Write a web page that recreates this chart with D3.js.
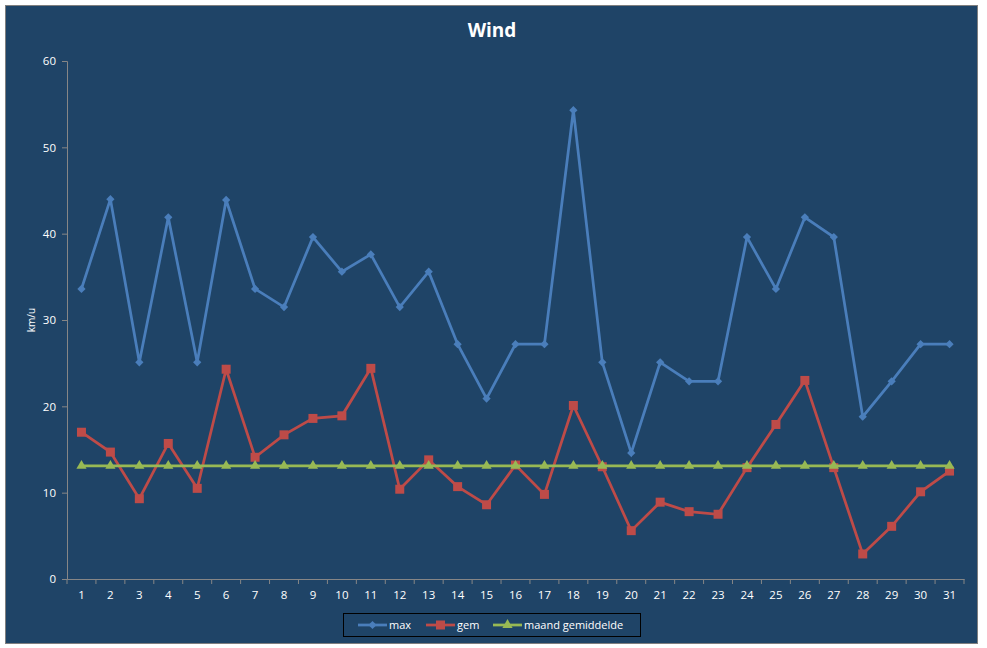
<!DOCTYPE html>
<html>
<head>
<meta charset="utf-8">
<script src="https://cdn.jsdelivr.net/npm/d3@7"></script>
<style>
  body { margin: 0; background: #ffffff; }
  text { font-family: "Open Sans", "Noto Sans", sans-serif; }
</style>
</head>
<body>
<svg id="chart"></svg>
<script>
// days of the month
var days = ["1","2","3","4","5","6","7","8","9","10","11","12","13","14","15","16",
            "17","18","19","20","21","22","23","24","25","26","27","28","29","30","31"];

// max wind per day (km/u)
var maxWind = [33.6, 44.0, 25.1, 41.9, 25.1, 43.9, 33.6, 31.5, 39.6, 35.6, 37.6, 31.5, 35.6, 27.2, 20.9, 27.2,
               27.2, 54.3, 25.1, 14.6, 25.1, 22.9, 22.9, 39.6, 33.6, 41.9, 39.6, 18.8, 22.9, 27.2, 27.2];

// average wind per day (km/u)
var gemWind = [17.0, 14.7, 9.3, 15.7, 10.5, 24.3, 14.1, 16.7, 18.6, 18.9, 24.4, 10.4, 13.8, 10.7, 8.6, 13.2,
               9.8, 20.1, 13.0, 5.6, 8.9, 7.8, 7.5, 12.9, 17.9, 23.0, 12.9, 2.9, 6.1, 10.1, 12.5];

// monthly average
var maandGem = [13.1, 13.1, 13.1, 13.1, 13.1, 13.1, 13.1, 13.1, 13.1, 13.1, 13.1, 13.1, 13.1, 13.1, 13.1, 13.1,
                13.1, 13.1, 13.1, 13.1, 13.1, 13.1, 13.1, 13.1, 13.1, 13.1, 13.1, 13.1, 13.1, 13.1, 13.1];

var yTicks = [0, 10, 20, 30, 40, 50, 60];

var width = 987;
var height = 648;

var svg = d3.select("#chart")
    .attr("width", width)
    .attr("height", height);

// chart background
svg.append("rect")
    .attr("x", 5.5).attr("y", 5.5)
    .attr("width", 972).attr("height", 638)
    .attr("fill", "#1f4467")
    .attr("stroke", "#7f7f7f")
    .attr("stroke-width", 1);

// title
svg.append("text")
    .attr("x", 492).attr("y", 37)
    .attr("text-anchor", "middle")
    .attr("fill", "#ffffff")
    .attr("font-size", 19)
    .attr("font-weight", "bold")
    .text("Wind");

var plotLeft = 67, plotRight = 964, plotTop = 61, plotBottom = 579;

var x = d3.scaleBand()
    .domain(days)
    .range([plotLeft, plotRight]);

var y = d3.scaleLinear()
    .domain([0, 60])
    .range([plotBottom, plotTop]);

// y axis
var yAxis = svg.append("g")
    .attr("transform", "translate(" + plotLeft + ",0)")
    .call(d3.axisLeft(y).tickValues(yTicks).tickSize(5).tickPadding(6));

// x axis, ticks between categories
var xAxis = svg.append("g")
    .attr("transform", "translate(0," + plotBottom + ")")
    .call(d3.axisBottom(x).tickSize(0).tickPadding(12));

xAxis.selectAll(".tickmark")
    .data(d3.range(days.length + 1))
    .enter().append("line")
    .attr("class", "tickmark")
    .attr("x1", function(i) { return plotLeft + i * x.step(); })
    .attr("x2", function(i) { return plotLeft + i * x.step(); })
    .attr("y1", 0).attr("y2", 5);

[yAxis, xAxis].forEach(function(a) {
    a.select(".domain").attr("stroke", "#868686");
    a.selectAll("line").attr("stroke", "#868686");
    a.selectAll("text").attr("fill", "#ffffff").attr("font-size", 11.5);
});

// y axis label
svg.append("text")
    .attr("transform", "translate(35,320) rotate(-90)")
    .attr("text-anchor", "middle")
    .attr("fill", "#ffffff")
    .attr("font-size", 10)
    .text("km/u");

// diamond = square turned 45 degrees
var series = [
    { name: "max", values: maxWind, color: "#4a7ebb", symbol: d3.symbolSquare, size: 34, rot: 45 },
    { name: "gem", values: gemWind, color: "#be4b48", symbol: d3.symbolSquare, size: 81, rot: 0 },
    { name: "maand gemiddelde", values: maandGem, color: "#98b954", symbol: d3.symbolTriangle, size: 45, rot: 0 }
];

var line = d3.line()
    .x(function(d, i) { return x(days[i]) + x.bandwidth() / 2; })
    .y(function(d) { return y(d); });

series.forEach(function(s, k) {
    svg.append("path")
        .datum(s.values)
        .attr("d", line)
        .attr("fill", "none")
        .attr("stroke", s.color)
        .attr("stroke-width", 2.75);

    svg.selectAll(".pt-" + k)
        .data(s.values)
        .enter().append("path")
        .attr("class", "pt-" + k)
        .attr("transform", function(d, i) {
            return "translate(" + (x(days[i]) + x.bandwidth() / 2) + "," + y(d) + ") rotate(" + s.rot + ")";
        })
        .attr("d", d3.symbol().type(s.symbol).size(s.size))
        .attr("fill", s.color);
});

// legend
var legend = svg.append("g");
legend.append("rect")
    .attr("x", 343.5).attr("y", 613.5)
    .attr("width", 297).attr("height", 23)
    .attr("fill", "none")
    .attr("stroke", "#000000")
    .attr("stroke-width", 1);

var legendPos = [358, 426, 493];
series.forEach(function(s, i) {
    var lx = legendPos[i];
    legend.append("line")
        .attr("x1", lx).attr("x2", lx + 29)
        .attr("y1", 625).attr("y2", 625)
        .attr("stroke", s.color)
        .attr("stroke-width", 2.75);
    legend.append("path")
        .attr("transform", "translate(" + (lx + 14.5) + ",625) rotate(" + s.rot + ")")
        .attr("d", d3.symbol().type(s.symbol).size(s.size))
        .attr("fill", s.color);
    legend.append("text")
        .attr("x", lx + 31).attr("y", 629)
        .attr("fill", "#ffffff")
        .attr("font-size", 11)
        .text(s.name);
});
</script>
</body>
</html>
